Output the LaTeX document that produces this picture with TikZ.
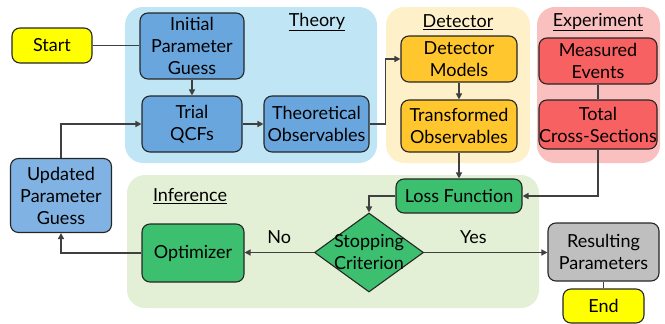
\documentclass[tikz,border=0pt]{standalone}
\usepackage{fontspec}
\setmainfont{Lato}
\usetikzlibrary{shapes.geometric,arrows.meta}
\definecolor{bluebox}{HTML}{6AA6DE}
\definecolor{bluereg}{HTML}{C0E6F5}
\definecolor{yelbox}{HTML}{FFC62E}
\definecolor{yelreg}{HTML}{FEF0C9}
\definecolor{redbox}{HTML}{F86161}
\definecolor{redreg}{HTML}{FAC0C0}
\definecolor{grnbox}{HTML}{3CBF6E}
\definecolor{grnreg}{HTML}{E3F0D5}
\definecolor{graybox}{HTML}{BFBFBF}
\definecolor{startyel}{HTML}{FFFF00}
\definecolor{linecol}{HTML}{404040}
\begin{document}
\begin{tikzpicture}[x=1pt,y=-1pt,
  txt/.style={font=\fontsize{18}{22}\selectfont, align=center},
  box/.style={txt, draw=black!85, line width=1.1pt, rounded corners=8pt, inner sep=0pt},
  region/.style={rounded corners=18pt},
  title/.style={font=\fontsize{18}{22}\selectfont, inner sep=0pt},
  conn/.style={draw=linecol, line width=1.4pt},
  arr/.style={conn, -{Triangle[length=6pt,width=6pt]}}
]
\useasboundingbox (0,0) rectangle (665,324);
% regions
\fill[bluereg, region] (125,7) rectangle (377,163);
\fill[yelreg, region] (386,7) rectangle (530,163);
\fill[redreg, region] (537,7) rectangle (660,163);
\fill[grnreg, region] (127,175) rectangle (539,308);
\node[title] (ttheory) at (317,22) {\underline{Theory}};
\node[title] (tdet) at (458,22) {\underline{Detector}};
\node[title] (texp) at (598,22) {\underline{Experiment}};
\node[title] (tinf) at (190,196) {\underline{Inference}};
% nodes
\node[box, fill=startyel, minimum width=80pt, minimum height=35pt] (start) at (52,45.5) {Start};
\node[box, fill=bluebox, minimum width=104pt, minimum height=66pt] (init) at (192,46) {Initial\\Parameter\\Guess};
\node[box, fill=bluebox, minimum width=100pt, minimum height=56pt] (trial) at (192,124) {Trial\\QCFs};
\node[box, fill=bluebox, minimum width=105pt, minimum height=56pt] (theo) at (316.5,124) {Theoretical\\Observables};
\node[box, fill=yelbox, minimum width=116pt, minimum height=46pt] (detm) at (459,59) {Detector\\Models};
\node[box, fill=yelbox, minimum width=116pt, minimum height=52pt] (trans) at (459,126) {Transformed\\Observables};
\node[box, fill=redbox, minimum width=118pt, minimum height=46pt] (meas) at (598,61) {Measured\\Events};
\node[box, fill=redbox, minimum width=118pt, minimum height=49pt] (total) at (598,124.5) {Total\\Cross-Sections};
\node[box, fill=grnbox, minimum width=126pt, minimum height=34pt] (loss) at (459,196) {Loss Function};
\node[box, fill=bluebox!85!white, minimum width=101pt, minimum height=74pt] (upd) at (61,195.5) {Updated\\Parameter\\Guess};
\node[box, fill=grnbox, minimum width=102pt, minimum height=58pt] (opt) at (193,253) {Optimizer};
\node[draw=black!85, line width=1.1pt, fill=grnbox, diamond, inner sep=0pt, minimum width=109pt, minimum height=79pt] (stop) at (369,252.5) {};
\node[txt, inner sep=0pt] (stoptxt) at (stop.center) {Stopping\\Criterion};
\node[box, fill=graybox, minimum width=111pt, minimum height=58pt] (res) at (603.5,252) {Resulting\\Parameters};
\node[box, fill=startyel, minimum width=81pt, minimum height=34pt] (end) at (603.5,306) {End};
% connectors
\draw[conn] (start.east) -- (start.east -| init.west);
\draw[arr] (init) -- (trial);
\draw[arr] (trial) -- (theo);
\draw[arr] (theo.east) -- ++(16,0) |- (detm.west);
\draw[arr] (detm) -- (trans);
\draw[arr] (trans) -- (loss);
\draw[conn] (meas) -- (total);
\draw[arr] (total.south) |- (loss.east);
\draw[arr] (loss.west) -| (stop.north);
\draw[arr] (stop.west) -- (stop.west -| opt.east) node[txt, pos=0.5, above=5pt] (no) {No};
\draw[arr] (stop.east) -- (stop.east -| res.west) node[txt, pos=0.4, above=5pt] (yes) {Yes};
\draw[arr] (opt.west) -| (upd.south);
\draw[arr] (upd.north) |- (trial.west);
\draw[conn] (res) -- (end);
\end{tikzpicture}
\end{document}
